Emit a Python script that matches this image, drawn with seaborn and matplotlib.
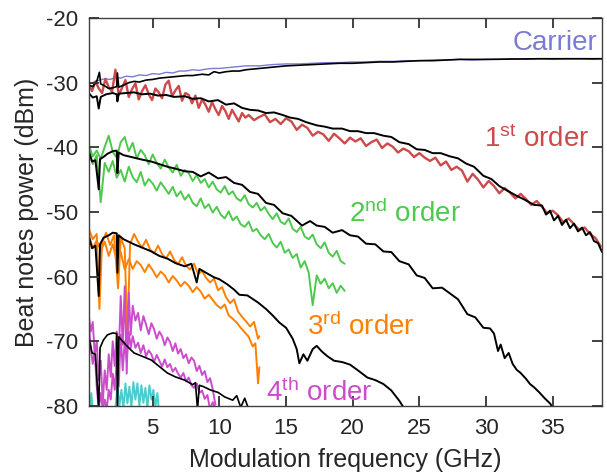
import numpy as np
import pandas as pd
import matplotlib
matplotlib.use("Agg")
import matplotlib.pyplot as plt
import seaborn as sns

# ---------------- data ----------------
carrier_x = [0.2,0.6,1.0,1.4,1.8,2.2,2.6,3.0,3.5,4.0,4.5,5.0,5.5,6.0,6.5,7.0,7.5,8.0,8.5,9.0,9.5,
             10,11,12,13,14,15,16,17,18,19,20,21,22,23,24,25,26,27,28,29,30,31,32,33,34,35,36,37,38,38.7]
carrier_y = [-30.3,-29.9,-29.6,-29.4,-29.5,-29.2,-29.3,-29.0,-29.1,-28.8,-28.9,-28.6,-28.7,-28.4,-28.5,-28.2,-28.2,-28.0,-28.1,-27.9,-27.8,
             -27.8,-27.6,-27.4,-27.4,-27.2,-27.1,-27.1,-27.0,-26.9,-26.9,-26.8,-26.8,-26.7,-26.7,-26.6,-26.6,-26.5,-26.5,-26.4,-26.5,-26.4,-26.4,-26.3,-26.4,-26.3,-26.4,-26.3,-26.3,-26.4,-26.3]

carrier_sim_x = [0.2,0.5,0.8,1.0,1.1,1.4,1.7,2.0,2.3,2.35,2.45,2.8,3.2,3.6,4.0,4.5,5.0,5.5,6.0,6.5,
                 7.0,7.5,8.0,8.7,9.2,9.6,10.0,10.5,11.0,11.5,12.0,12.5,13.0,13.5,14.0,14.5,15.0,16,17,18,
                 19,20,21,22,23,24,25,26,27,28,29,30,32,34,36,38.7]
carrier_sim_y = [-30.4,-30.6,-29.8,-28.4,-30.2,-30.5,-30.9,-30.8,-30.6,-28.5,-30.7,-30.4,-30.0,-29.8,-29.9,-29.6,-29.5,-29.3,-29.2,-29.1,
                 -29.0,-28.9,-28.9,-28.7,-28.8,-28.3,-28.5,-28.3,-28.2,-28.2,-28.0,-27.9,-27.8,-27.7,-27.6,-27.5,-27.4,-27.3,-27.2,-27.1,
                 -27.0,-27.0,-26.9,-26.8,-26.8,-26.7,-26.6,-26.6,-26.5,-26.4,-26.4,-26.4,-26.35,-26.3,-26.3,-26.3]

first_x = [0.2,0.45,0.7,0.95,1.2,1.45,1.7,1.95,2.2,2.45,2.7,2.95,3.2,3.45,3.7,3.95,4.2,4.45,4.7,4.95,
           5.2,5.45,5.7,5.95,6.2,6.45,6.7,6.95,7.2,7.45,7.7,7.95,8.2,8.45,8.7,8.95,9.2,9.45,9.7,9.95,
           10.2,10.45,10.7,10.95,11.2,11.45,11.7,11.95,
           12.2,12.6,13.0,13.4,13.8,14.2,14.6,15.0,15.4,15.8,16.2,16.6,17.0,17.4,17.8,18.2,18.6,19.0,19.4,19.8,
           20.2,20.6,21.0,21.4,21.8,22.2,22.6,23.0,23.4,23.8,24.2,24.6,25.0,25.4,25.8,26.2,26.6,27.0,27.4,27.8,
           28.2,28.6,29.0,29.4,29.8,30.2,30.6,31.0,31.4,31.8,32.2,32.6,33.0,33.4,33.8,34.2,34.6,35.0,35.4,35.8,
           36.2,36.6,37.0,37.4,37.8,38.2,38.6]
first_y = [-30.2,-31.3,-29.8,-30.9,-31.6,-29.4,-30.7,-31.4,-28.0,-31.9,
           -30.8,-29.6,-32.2,-31.0,-30.1,-32.6,-31.3,-30.4,-31.8,-32.7,
           -30.9,-31.5,-32.4,-30.3,-29.7,-32.1,-31.2,-30.5,-32.8,-31.6,
           -31.9,-33.2,-32.0,-33.9,-32.6,-33.4,-34.5,-33.0,-34.1,-35.0,
           -33.6,-34.4,-35.6,-34.2,-35.1,-36.0,-34.7,-35.4,
           -35.0,-35.8,-35.3,-34.9,-36.1,-35.6,-36.4,-35.5,-36.0,-37.3,-36.5,-37.0,-38.2,-37.6,-38.0,-39.0,-37.9,-38.6,-39.4,-38.5,
           -39.1,-38.6,-39.8,-39.2,-38.8,-40.1,-39.4,-39.9,-40.8,-40.2,-40.6,-41.5,-40.9,-41.6,-42.1,-41.6,-42.8,-42.2,-43.5,-43.0,
           -43.6,-45.3,-44.1,-45.0,-46.2,-45.2,-46.0,-47.1,-46.3,-47.0,-47.9,-47.2,-48.0,-48.9,-48.3,-49.2,-50.2,-49.8,-50.5,-51.6,
           -51.0,-51.9,-52.8,-52.4,-53.4,-54.0,-55.3]

first_sim_x = [0.2,0.5,0.8,0.95,1.1,1.5,2.0,2.3,2.35,2.45,3.0,3.6,4.2,4.8,5.4,6.0,6.6,7.4,8.0,8.6,
               9.2,9.9,10.5,11.1,11.7,12.3,12.9,13.5,14.1,14.75,15.3,15.9,16.5,17.3,17.9,18.5,19.2,19.8,20.4,21.0,
               21.6,22.3,22.9,23.5,24.2,24.8,25.4,26.0,26.6,27.3,27.9,28.5,29.1,29.8,30.4,31.0,31.6,32.3,32.9,33.6,
               34.2,34.5,34.8,35.1,35.4,35.7,36.0,36.3,36.6,36.9,37.2,37.5,37.8,38.1,38.4,38.7]
first_sim_y = [-31.6,-32.3,-32.1,-34.0,-32.2,-31.8,-31.6,-31.8,-32.9,-31.7,-31.6,-31.5,-31.8,-31.7,-32.0,-31.9,-32.2,-32.1,-32.5,-32.4,
               -32.9,-32.7,-33.4,-33.2,-33.9,-34.2,-34.3,-34.7,-34.6,-35.0,-35.4,-35.6,-36.1,-36.6,-36.8,-37.1,-37.1,-37.5,-37.5,-37.8,
               -37.8,-38.2,-38.4,-39.2,-39.5,-40.3,-40.4,-40.9,-40.9,-41.4,-41.7,-42.5,-43.0,-44.4,-44.9,-46.0,-46.7,-47.5,-48.1,-48.9,
               -49.0,-50.4,-49.8,-51.3,-50.6,-52.0,-51.2,-52.5,-51.8,-53.0,-52.4,-53.6,-53.1,-54.5,-54.8,-56.2]

second_x = [0.2,0.5,0.8,1.1,1.4,1.7,2.0,2.3,2.6,2.9,3.2,3.5,3.8,4.1,4.4,4.7,5.0,5.3,5.6,5.9,
            6.2,6.5,6.8,7.1,7.4,7.7,8.0,8.3,8.6,8.9,9.2,9.5,9.8,10.1,10.4,10.7,11.0,11.3,11.6,11.9,
            12.2,12.5,12.8,13.1,13.4,13.7,14.0,14.3,14.6,14.9,15.2,15.5,15.8,16.1,16.4,16.7,17.0,17.3,17.6,17.9,
            18.2,18.5,18.8,19.1,19.4]
second_a_y = [-39.6,-41.4,-40.5,-41.8,-39.9,-38.2,-40.7,-41.6,-39.2,-38.4,
              -40.6,-39.3,-41.7,-40.4,-41.2,-42.6,-41.1,-42.4,-43.3,-41.9,
              -43.1,-43.9,-42.7,-44.4,-43.5,-44.0,-45.2,-44.3,-45.5,-44.9,
              -46.2,-45.3,-46.5,-47.0,-46.0,-47.3,-46.8,-47.9,-48.3,-47.4,
              -48.8,-49.3,-48.6,-49.8,-49.2,-50.3,-51.1,-50.2,-51.5,-51.9,
              -51.0,-52.6,-53.1,-52.3,-53.8,-54.2,-53.5,-55.0,-55.6,-54.7,
              -56.3,-56.9,-56.0,-57.6,-58.0]
second_b_y = [-40.3,-42.6,-41.2,-48.5,-42.4,-43.8,-42.1,-44.7,-43.5,-45.3,
              -43.0,-44.6,-45.4,-43.8,-45.9,-44.9,-45.6,-46.7,-45.4,-46.3,
              -47.2,-46.1,-47.6,-46.8,-48.1,-47.3,-48.6,-49.1,-47.9,-49.4,
              -48.8,-50.1,-49.2,-50.4,-51.0,-49.9,-51.3,-50.7,-51.9,-52.3,
              -51.5,-53.0,-52.6,-53.6,-54.2,-53.4,-54.8,-55.5,-54.6,-56.3,
              -55.8,-57.1,-56.5,-58.6,-57.6,-59.4,-64.4,-59.8,-61.1,-60.3,
              -61.8,-61.0,-62.5,-61.4,-62.2]

second_sim_x = [0.2,0.45,0.7,0.95,1.05,1.3,1.6,2.0,2.3,2.35,2.45,2.8,3.2,3.6,4.2,4.9,5.5,6.1,6.7,7.4,
                8.0,8.6,9.2,9.9,10.5,11.1,11.7,12.3,12.9,13.5,14.1,14.75,15.4,16.2,16.8,17.3,17.9,18.5,19.2,19.8,
                20.4,21.0,21.7,22.3,22.9,23.5,24.2,24.8,25.4,26.0,26.7,27.3,27.9,28.6,29.2,29.8,30.3,30.6,30.9,31.1,
                31.4,31.7,32.0,32.3,32.6,33.0,33.3,33.6,34.0,34.4,34.8,35.1]
second_sim_y = [-40.6,-42.2,-42.0,-46.5,-41.8,-41.5,-41.0,-40.6,-40.5,-44.0,-40.8,-41.2,-41.4,-41.6,-41.9,-42.2,-42.6,-43.0,-43.3,-43.7,
                -43.8,-44.5,-43.9,-44.8,-44.6,-45.5,-45.8,-46.9,-47.2,-48.6,-48.9,-50.2,-50.6,-52.1,-51.4,-52.1,-52.3,-53.2,-52.8,-53.6,
                -53.8,-54.9,-55.0,-56.1,-56.2,-57.6,-58.1,-59.8,-60.2,-61.8,
                -61.7,-62.6,-63.5,-65.8,-66.3,-67.9,-68.0,-68.8,-71.5,-70.5,
                -72.6,-71.8,-73.5,-74.4,-74.9,-75.8,-76.6,-77.1,-77.9,-78.8,-79.6,-80.5]

third_a_x = [0.2,0.5,0.8,1.0,1.2,1.5,1.8,2.1,2.4,2.6,2.9,3.1,3.3,3.6,3.9,4.2,4.5,4.8,5.1,5.4,
             5.7,6.0,6.3,6.6,6.9,7.2,7.5,7.8,8.1,8.4,8.7,9.0,9.3,9.6,9.9,10.2,10.5,10.8,11.1,11.4,
             11.7,12.0,12.3,12.6,12.9,13.0]
third_a_y = [-52.6,-54.2,-53.4,-65.0,-54.8,-53.2,-55.1,-53.6,-61.8,-54.0,
             -55.6,-69.8,-55.0,-53.4,-54.6,-55.5,-54.3,-55.8,-56.4,-55.2,
             -56.5,-57.2,-56.1,-57.4,-58.1,-57.0,-58.3,-58.9,-58.0,-59.6,
             -59.1,-60.2,-60.9,-60.3,-62.1,-61.6,-63.2,-64.1,-63.5,-65.4,
             -66.2,-66.9,-67.7,-67.0,-69.6,-69.2]
third_b_x = [0.2,0.5,0.8,1.1,1.4,1.7,2.0,2.3,2.6,2.9,3.2,3.5,3.8,4.1,4.4,4.7,5.0,5.3,5.6,5.9,
             6.2,6.5,6.8,7.1,7.4,7.7,8.0,8.3,8.6,8.9,9.2,9.5,9.8,10.1,10.4,10.7,11.0,11.3,11.6,11.9,
             12.2,12.5,12.7,12.9,13.0]
third_b_y = [-53.5,-55.6,-54.4,-56.0,-54.6,-56.8,-55.0,-57.5,-56.2,-58.9,
             -57.3,-58.8,-57.6,-58.2,-59.3,-58.1,-59.0,-60.1,-59.2,-59.8,
             -60.9,-59.9,-60.6,-61.5,-60.8,-61.4,-62.4,-61.6,-62.3,-63.4,
             -62.8,-63.6,-64.4,-64.9,-64.3,-66.0,-66.5,-67.1,-67.9,-68.6,
             -69.3,-70.8,-70.3,-76.5,-74.0]

third_sim_x = [0.2,0.45,0.7,0.95,1.05,1.3,1.7,2.0,2.3,2.35,2.45,2.8,3.2,3.6,4.2,4.9,5.5,6.1,6.7,7.4,
               7.9,8.3,8.5,9.0,9.6,10.0,10.6,11.1,11.5,12.1,12.9,13.5,14.0,14.5,15.0,15.5,15.8,16.0,16.3,16.6,
               17.0,17.3,17.7,18.1,18.6,19.2,19.8,20.4,21.1,21.7,22.3,22.9,23.5,23.9]
third_sim_y = [-53.7,-55.6,-55.2,-63.0,-55.0,-54.0,-53.6,-53.2,-53.3,-59.4,-53.6,-54.2,-54.6,-55.0,-55.5,-56.1,-56.8,-57.2,-57.9,-58.4,
               -58.0,-60.9,-58.8,-59.4,-60.1,-60.4,-61.2,-62.0,-62.8,-62.9,-64.0,-65.0,-66.0,-67.1,-67.9,-69.6,-71.2,-73.4,-72.0,-73.0,
               -71.2,-70.7,-71.6,-72.3,-73.0,-73.2,-73.6,-74.5,-75.6,-76.0,-76.6,-77.6,-79.2,-80.5]

fourth_x = [0.2,0.35,0.5,0.65,0.8,0.95,1.1,1.25,1.4,1.55,1.7,1.85,2.0,2.15,2.3,2.45,2.6,2.75,2.9,3.05,3.2,3.35,
            3.5,3.7,3.9,4.1,4.3,4.5,4.7,4.9,5.1,5.3,5.5,5.7,5.9,6.1,6.3,6.5,6.7,6.9,7.1,7.3,7.5,7.7,7.9,8.1,
            8.3,8.5,8.7,8.9,9.1,9.3,9.5,9.7]
fourth_a_y = [-66.0,-68.5,-67.0,-72.0,-70.0,-76.0,-73.0,-79.5,-74.5,-77.5,-72.0,-75.5,-70.0,-73.8,-68.5,-72.5,-63.0,-70.5,-61.5,-75.0,-62.5,-69.0,
              -64.5,-66.8,-65.6,-68.3,-66.1,-67.4,-68.9,-67.2,-68.1,-69.6,
              -68.5,-69.2,-70.6,-69.4,-70.1,-71.5,-70.3,-71.9,-71.2,-72.6,
              -72.0,-73.4,-72.5,-73.0,-74.6,-73.8,-75.2,-74.6,-76.3,-75.7,
              -77.4,-79.8]
fourth_b_y = [-67.5,-71.0,-73.5,-71.5,-77.0,-80.5,-78.0,-80.5,-79.0,-80.5,-77.5,-79.0,-75.0,-77.5,-73.0,-77.0,-69.0,-74.5,-70.0,-73.0,-68.5,-71.0,
              -69.2,-71.0,-70.2,-71.8,-70.6,-72.3,-71.4,-72.0,-73.2,-72.1,
              -73.0,-73.9,-72.8,-74.0,-73.5,-74.7,-74.1,-75.0,-75.6,-74.9,
              -76.2,-75.6,-76.8,-77.2,-76.5,-78.0,-77.6,-78.9,-78.3,-80.5,
              -79.4,-80.5]

fourth_sim_x = [0.2,0.45,0.7,0.95,1.05,1.3,1.6,2.0,2.3,2.35,2.45,2.87,3.2,3.6,4.2,4.9,5.5,6.1,6.7,7.4,
                8.0,8.2,8.36,8.5,8.8,9.3,9.9,10.4,11.0,11.3,11.6,11.9,12.2]
fourth_sim_y = [-69.3,-71.8,-72.0,-80.5,-71.0,-69.8,-69.0,-68.7,-68.8,-80.5,-69.3,-70.3,-71.0,-71.8,-72.3,-72.9,-73.9,-74.9,-75.5,-76.0,
                -76.7,-76.4,-80.5,-76.8,-77.0,-77.5,-77.9,-78.6,-79.1,-78.4,-80.2,-78.8,-80.5]

fifth_a_x = [0.2,0.3,0.4,0.5]
fifth_a_y = [-77.5,-80.5,-78.0,-80.5]
fifth_b_x = [2.2,2.35,2.5,2.65,2.8,2.95,3.1,3.25,3.4,3.55,3.7,3.85,4.0,4.15,4.3,4.45,4.6,4.75,4.9,5.05,5.2,5.35,5.45]
fifth_b_y = [-80.5,-76.8,-80.0,-77.5,-80.3,-76.5,-79.6,-77.0,-80.2,-76.3,-79.0,-76.5,-80.0,-76.8,-79.5,-77.2,-80.3,-76.8,-79.0,-77.5,-80.2,-78.0,-80.5]

labels = ["Carrier", "1$^{\\mathregular{st}}$ order", "2$^{\\mathregular{nd}}$ order",
          "3$^{\\mathregular{rd}}$ order", "4$^{\\mathregular{th}}$ order"]
label_x = [35.2, 33.8, 23.9, 20.6, 17.5]
label_y = [-23.8, -38.8, -50.3, -67.8, -78.0]

x_ticks = [5, 10, 15, 20, 25, 30, 35]
y_ticks = [-80, -70, -60, -50, -40, -30, -20]

# ---------------- style ----------------
C_BLUE = "#7b7bd4"
C_RED = "#cc4a4a"
C_GREEN = "#4dc94d"
C_ORANGE = "#ff8000"
C_MAGENTA = "#cc4dcc"
C_CYAN = "#4dcccc"
TXT = "#262626"

sns.set_style("ticks")
plt.rcParams['font.family'] = ['Liberation Sans', 'DejaVu Sans']
plt.rcParams['axes.unicode_minus'] = False
plt.rcParams['mathtext.default'] = 'regular'
plt.rcParams['axes.axisbelow'] = False

fig = plt.figure(figsize=(6.07, 4.75), dpi=100)
ax = fig.add_axes([89 / 607, (475 - 406) / 475, (602 - 89) / 607, (406 - 18) / 475])


def draw(x, y, color, lw):
    sns.lineplot(x=x, y=y, color=color, linewidth=lw, sort=False,
                 estimator=None, ax=ax, legend=False)


draw(carrier_x, carrier_y, C_BLUE, 1.0)
draw(first_x, first_y, C_RED, 1.7)
draw(second_x, second_a_y, C_GREEN, 1.4)
draw(second_x, second_b_y, C_GREEN, 1.4)
draw(third_a_x, third_a_y, C_ORANGE, 1.4)
draw(third_b_x, third_b_y, C_ORANGE, 1.4)
draw(fourth_x, fourth_a_y, C_MAGENTA, 1.4)
draw(fourth_x, fourth_b_y, C_MAGENTA, 1.4)
draw(fifth_a_x, fifth_a_y, C_CYAN, 1.4)
draw(fifth_b_x, fifth_b_y, C_CYAN, 1.4)

draw(carrier_sim_x, carrier_sim_y, "black", 1.2)
draw(first_sim_x, first_sim_y, "black", 1.4)
draw(second_sim_x, second_sim_y, "black", 1.4)
draw(third_sim_x, third_sim_y, "black", 1.4)
draw(fourth_sim_x, fourth_sim_y, "black", 1.2)

label_colors = [C_BLUE, C_RED, C_GREEN, C_ORANGE, C_MAGENTA]
for t, lx, ly, c in zip(labels, label_x, label_y, label_colors):
    ax.text(lx, ly, t, color=c, fontsize=20, ha="center", va="center")

ax.set_xlim(0.22, 38.7)
ax.set_ylim(-80, -20)
ax.set_xticks(x_ticks)
ax.set_yticks(y_ticks)
ax.set_axisbelow(False)
ax.tick_params(axis='both', which='major', direction='in', length=7, width=1.3,
               color='#333333', labelcolor=TXT, labelsize=16,
               top=True, right=True, bottom=True, left=True,
               labeltop=False, labelright=False, labelbottom=True, labelleft=True)
ax.tick_params(axis='x', pad=9)
ax.tick_params(axis='y', pad=8)
for s in ax.spines.values():
    s.set_color("#404040")
    s.set_linewidth(1.0)
    s.set_visible(True)

ax.set_xlabel("Modulation frequency (GHz)", fontsize=18, color=TXT, labelpad=6)
ax.set_ylabel("Beat notes power (dBm)", fontsize=18, color=TXT, labelpad=5)

fig.savefig("out.png", dpi=100)
